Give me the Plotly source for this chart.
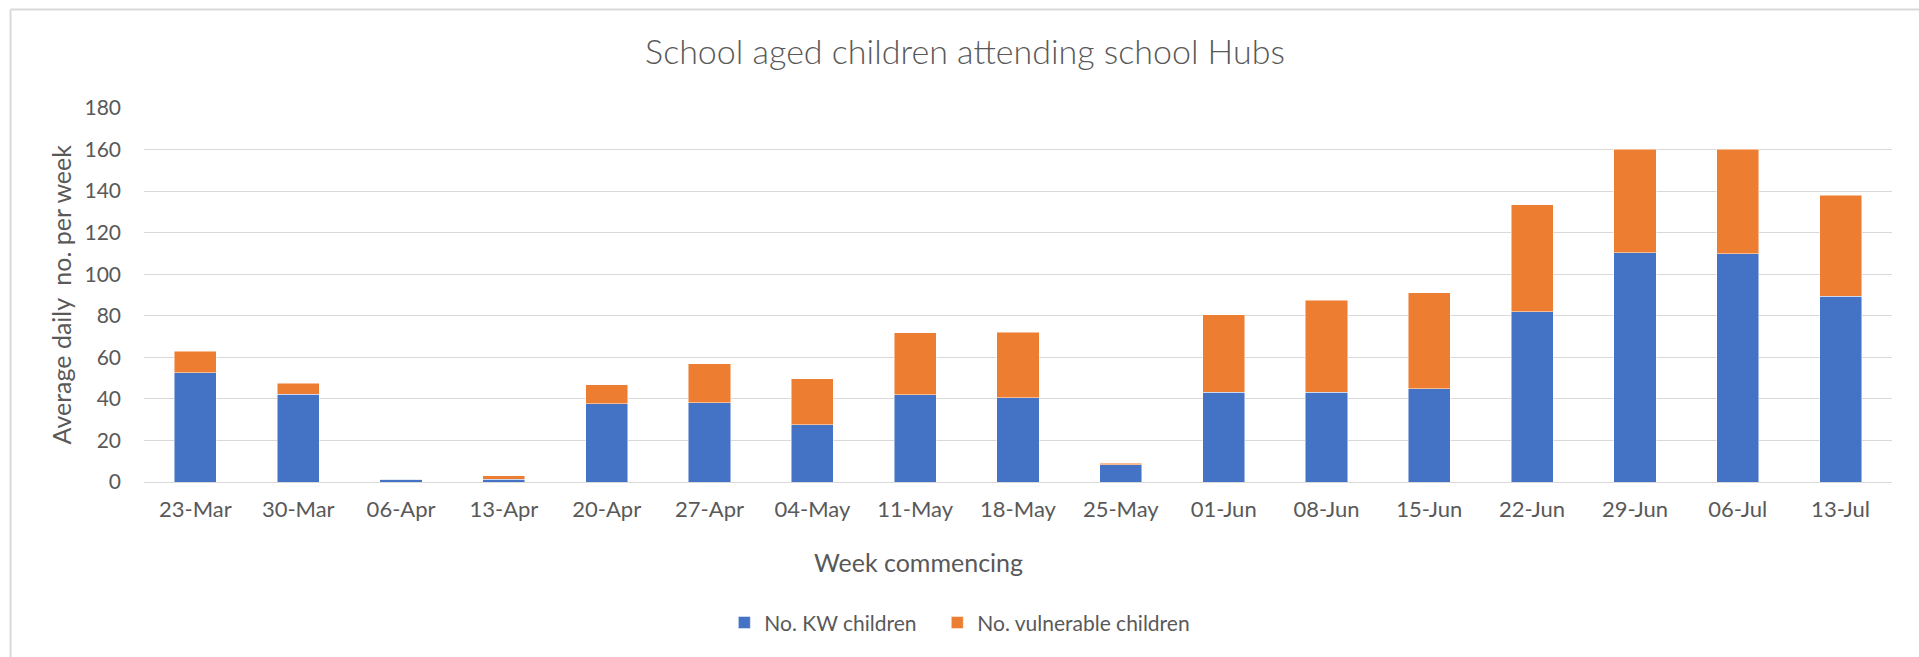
import plotly.graph_objects as go

weeks = ["23-Mar", "30-Mar", "06-Apr", "13-Apr", "20-Apr", "27-Apr", "04-May", "11-May",
         "18-May", "25-May", "01-Jun", "08-Jun", "15-Jun", "22-Jun", "29-Jun", "06-Jul", "13-Jul"]
kw_children = [52.5, 42.2, 1.4, 1.4, 37.6, 38.1, 27.6, 42.0, 40.5, 8.2, 43.3, 43.3, 44.9, 81.9, 110.3, 109.8, 89.4]
vulnerable_children = [10.5, 5.3, 0.0, 1.6, 9.1, 18.7, 22.1, 29.8, 31.6, 0.8, 37.1, 44.2, 46.1, 51.6, 49.8, 50.3, 48.6]
y_ticks = [0, 20, 40, 60, 80, 100, 120, 140, 160, 180]

TITLE = "School aged children attending school Hubs"
Y_TITLE = "Average daily&nbsp;&nbsp;no. per week"
X_TITLE = "Week commencing"

W, H = 1919, 657
PL, PR, PT, PB = 143.5, 1892, 107.7, 482  # plot area in screen px
ML, MR, MT, MB = PL, W - PR, PT, H - PB
PW, PH = PR - PL, PB - PT


def px(x):
    return (x - PL) / PW


def py(y):
    return (PB - y) / PH


FONT = "Lato, Carlito, Calibri, sans-serif"
GREY = "#595959"

fig = go.Figure()
fig.add_trace(go.Bar(x=weeks, y=kw_children, name="No. KW children", legend="legend",
                     marker=dict(color="#4472C4", line=dict(color="rgba(255,255,255,0.6)", width=0.8))))
fig.add_trace(go.Bar(x=weeks, y=vulnerable_children, name="No. vulnerable children", legend="legend2",
                     marker=dict(color="#ED7D31", line=dict(color="rgba(255,255,255,0.6)", width=0.8))))

leg_common = dict(orientation="h", xanchor="left", y=py(623), yanchor="middle",
                  font=dict(size=21, color=GREY), itemwidth=30, bgcolor="rgba(0,0,0,0)")

fig.update_layout(
    width=W, height=H,
    margin=dict(l=ML, r=MR, t=MT, b=MB, pad=0),
    barmode="stack", bargap=0.59,
    paper_bgcolor="white", plot_bgcolor="white",
    font=dict(family=FONT, color=GREY, size=21),
    title=dict(text=TITLE, x=965 / W, xanchor="center", y=1 - 52 / H, yanchor="middle",
               font=dict(family=FONT, size=34, color=GREY, weight=300)),
    showlegend=True,
    legend=dict(x=px(724), **leg_common),
    legend2=dict(x=px(937), **leg_common),
    xaxis=dict(showgrid=False, showline=False, ticks="", ticklabelstandoff=12,
               tickfont=dict(size=22, color=GREY)),
    yaxis=dict(range=[0, 180], tickvals=y_ticks, showgrid=True, gridcolor="#D9D9D9", gridwidth=1.4,
               zeroline=True, zerolinecolor="#D9D9D9", zerolinewidth=1.4, showline=False, ticks="",
               ticklabelstandoff=22, tickfont=dict(size=21, color=GREY)),
    annotations=[
        dict(text=Y_TITLE, xref="paper", yref="paper", x=px(60), y=0.5, textangle=-90,
             showarrow=False, xanchor="center", yanchor="middle", font=dict(size=25, color=GREY)),
        dict(text=X_TITLE, xref="paper", yref="paper", x=px(918), y=py(562),
             showarrow=False, xanchor="center", yanchor="middle", font=dict(size=25, color=GREY)),
    ],
    shapes=[
        dict(type="line", xref="paper", yref="paper", x0=px(10), x1=px(10), y0=py(700), y1=py(9),
             line=dict(color="#D9D9D9", width=2)),
        dict(type="line", xref="paper", yref="paper", x0=px(10), x1=px(1960), y0=py(9), y1=py(9),
             line=dict(color="#D9D9D9", width=2)),
    ],
)

fig.write_html(
    "out.html",
    config={"displayModeBar": False},
    post_script="document.body.style.margin='0';document.body.style.overflow='hidden';",
)
